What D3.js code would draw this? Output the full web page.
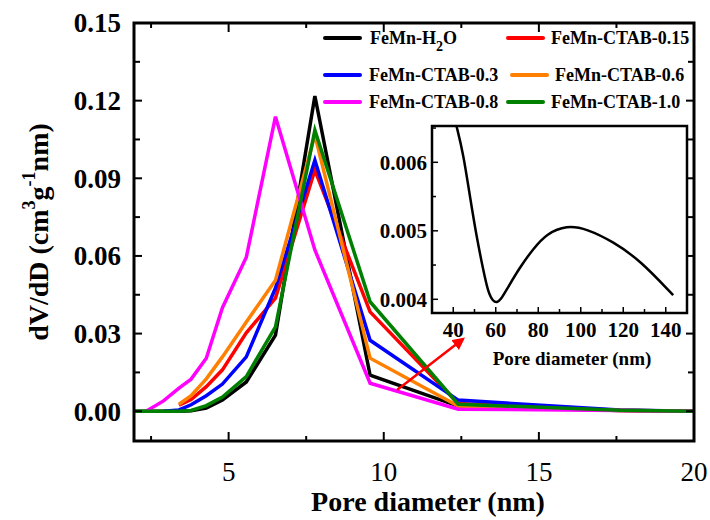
<!DOCTYPE html>
<html>
<head>
<meta charset="utf-8">
<script src="https://cdn.jsdelivr.net/npm/d3@7"></script>
<style>
  body { margin: 0; background: #fff; }
  svg text { font-family: "Liberation Serif", "Times New Roman", Times, "DejaVu Serif", serif; }
</style>
</head>
<body>
<svg width="710" height="520"></svg>
<script>
// pore diameters (nm) of the BJH points
const poreX = [1.95, 2.34, 2.9, 3.4, 3.79, 4.28, 4.8, 5.57, 6.51, 7.78, 9.56, 12.4, 17.6, 20];

const h2o    = [0, 0, 0, 0, 0.0002, 0.0012, 0.0043, 0.0113, 0.0294, 0.1218, 0.0139, 0.0020, 0.0003, 0];
const ctab15 = [null, null, null, 0.0023, 0.0045, 0.0095, 0.0160, 0.0303, 0.0437, 0.0932, 0.0384, 0.0030, 0.0004, 0];
const ctab3  = [null, null, 0, 0.0005, 0.0025, 0.0060, 0.0105, 0.0210, 0.0476, 0.0970, 0.0274, 0.0043, 0.0005, 0];
const ctab6  = [null, null, null, 0.0027, 0.0060, 0.0125, 0.0210, 0.0345, 0.0506, 0.1067, 0.0205, 0.0020, 0.0003, 0];
const ctab8  = [null, 0, 0.0040, 0.0089, 0.0124, 0.0205, 0.0400, 0.0595, 0.1138, 0.0623, 0.0108, 0.0008, 0.0003, 0];
const ctab10 = [0, 0, 0, 0, 0.0003, 0.0022, 0.0055, 0.0134, 0.0326, 0.1086, 0.0423, 0.0027, 0.0004, 0];

const seriesNames = ["FeMn-H2O", "FeMn-CTAB-0.15", "FeMn-CTAB-0.3", "FeMn-CTAB-0.6", "FeMn-CTAB-0.8", "FeMn-CTAB-1.0"];
const seriesValues = [h2o, ctab15, ctab3, ctab6, ctab8, ctab10];
const seriesColors = ["#000000", "#ff0000", "#0000ff", "#ff8000", "#ff00ff", "#008000"];

const yTicks = [0, 0.03, 0.06, 0.09, 0.12, 0.15];
const xTicks = [5, 10, 15, 20];

// inset: the H2O curve at large pores
const insetX = [41.6, 44.7, 47.9, 51, 54.1, 56.5, 58.8, 60.5, 62.5, 65.1, 71.4, 77.7, 84, 93.4, 102.8, 115.3, 127.9, 143.5];
const insetY = [0.00652, 0.00613, 0.00549, 0.00491, 0.00443, 0.00409, 0.00397, 0.00395, 0.00400, 0.00414, 0.00447, 0.00474, 0.00496, 0.00508, 0.00503, 0.00484, 0.00457, 0.00406];
const insetXTicks = [40, 60, 80, 100, 120, 140];
const insetYTicks = [0.004, 0.005, 0.006];

const FONT = "'Liberation Serif', 'Times New Roman', Times, 'DejaVu Serif', serif";

const svg = d3.select("svg").attr("font-family", FONT);

const plot = { left: 134, right: 694, top: 23, bottom: 441 };

const x = d3.scaleLinear().domain([1.95, 20]).range([plot.left, plot.right]);
const y = d3.scaleLinear().domain([-0.0115, 0.15]).range([plot.bottom, plot.top]);

svg.append("clipPath").attr("id", "mainClip")
    .append("rect")
    .attr("x", plot.left).attr("y", plot.top)
    .attr("width", plot.right - plot.left).attr("height", plot.bottom - plot.top);

// lines
const line = d3.line()
    .defined(d => d[1] !== null)
    .x(d => x(d[0]))
    .y(d => y(d[1]));

const lines = svg.append("g").attr("clip-path", "url(#mainClip)");
seriesValues.forEach((vals, i) => {
    lines.append("path")
        .datum(poreX.map((p, j) => [p, vals[j]]))
        .attr("fill", "none")
        .attr("stroke", seriesColors[i])
        .attr("stroke-width", 3.5)
        .attr("d", line);
});

// ticks pointing inward
function stepTicks(scale, step) {
    const [a, b] = scale.domain();
    return d3.range(Math.ceil(a / step) * step, b + 1e-9, step);
}

const xAll = stepTicks(x, 2.5);
svg.append("g")
    .selectAll("line")
    .data(xAll)
    .join("line")
    .attr("x1", d => x(d)).attr("x2", d => x(d))
    .attr("y1", plot.bottom).attr("y2", d => plot.bottom - (d % 5 === 0 ? 9 : 5))
    .attr("stroke", "#000").attr("stroke-width", 2);

svg.append("g")
    .selectAll("line")
    .data(xAll)
    .join("line")
    .attr("x1", d => x(d)).attr("x2", d => x(d))
    .attr("y1", plot.top).attr("y2", d => plot.top + (d % 5 === 0 ? 9 : 5))
    .attr("stroke", "#000").attr("stroke-width", 2);

const yAll = d3.range(0, 0.1501, 0.015);
svg.append("g")
    .selectAll("line")
    .data(yAll)
    .join("line")
    .attr("x1", plot.left).attr("x2", (d, i) => plot.left + (i % 2 === 0 ? 8 : 6))
    .attr("y1", d => y(d)).attr("y2", d => y(d))
    .attr("stroke", "#000").attr("stroke-width", 2);

svg.append("g")
    .selectAll("line")
    .data(yAll)
    .join("line")
    .attr("x1", plot.right).attr("x2", (d, i) => plot.right - (i % 2 === 0 ? 8 : 6))
    .attr("y1", d => y(d)).attr("y2", d => y(d))
    .attr("stroke", "#000").attr("stroke-width", 2);

// frame
svg.append("rect")
    .attr("x", plot.left).attr("y", plot.top)
    .attr("width", plot.right - plot.left).attr("height", plot.bottom - plot.top)
    .attr("fill", "none").attr("stroke", "#000").attr("stroke-width", 3);

// tick labels
svg.append("g")
    .selectAll("text")
    .data(yTicks)
    .join("text")
    .attr("x", 121).attr("y", d => y(d))
    .attr("dy", "0.35em")
    .attr("text-anchor", "end")
    .attr("font-size", 27).attr("font-weight", "bold")
    .text(d => d3.format(".2f")(d));

svg.append("g")
    .selectAll("text")
    .data(xTicks)
    .join("text")
    .attr("x", d => x(d)).attr("y", 481)
    .attr("text-anchor", "middle")
    .attr("font-size", 27)
    .text(d => d);

// axis titles
svg.append("text")
    .attr("x", 428).attr("y", 511)
    .attr("text-anchor", "middle")
    .attr("font-size", 28).attr("font-weight", "bold")
    .text("Pore diameter (nm)");

const yTitle = svg.append("text")
    .attr("transform", "translate(48,232) rotate(-90)")
    .attr("text-anchor", "middle")
    .attr("font-size", 28).attr("font-weight", "bold");
yTitle.append("tspan").text("dV/dD (cm");
yTitle.append("tspan").attr("font-size", 18).attr("dy", -13).text("3");
yTitle.append("tspan").attr("dy", 13).text("g");
yTitle.append("tspan").attr("font-size", 18).attr("dy", -13).text("-1");
yTitle.append("tspan").attr("dy", 13).text("nm)");

// legend
const legendPos = [
    { lx: 325, tx: 370, y: 38 },
    { lx: 508, tx: 551, y: 38 },
    { lx: 325, tx: 369, y: 75 },
    { lx: 512, tx: 555, y: 75 },
    { lx: 325, tx: 369, y: 102 },
    { lx: 508, tx: 551, y: 102 },
];
const legend = svg.append("g");
seriesNames.forEach((name, i) => {
    const p = legendPos[i];
    legend.append("line")
        .attr("x1", p.lx).attr("x2", p.lx + 35)
        .attr("y1", p.y).attr("y2", p.y)
        .attr("stroke", seriesColors[i]).attr("stroke-width", 4)
        .attr("stroke-linecap", "round");
    const t = legend.append("text")
        .attr("x", p.tx).attr("y", p.y + 6)
        .attr("font-size", 18).attr("font-weight", "bold");
    if (name === "FeMn-H2O") {
        t.append("tspan").text("FeMn-H");
        t.append("tspan").attr("font-size", 14).attr("dy", 7).text("2");
        t.append("tspan").attr("dy", -7).text("O");
    } else {
        t.text(name);
    }
});

// red arrow pointing to the inset
svg.append("defs").append("marker")
    .attr("id", "arrowHead")
    .attr("viewBox", "0 0 10 10")
    .attr("refX", 8).attr("refY", 5)
    .attr("markerWidth", 5).attr("markerHeight", 5)
    .attr("markerUnits", "strokeWidth")
    .attr("orient", "auto")
    .append("path").attr("d", "M0,0 L10,5 L0,10 z").attr("fill", "#ff0000");

svg.append("line")
    .attr("x1", 397).attr("y1", 390)
    .attr("x2", 463).attr("y2", 339)
    .attr("stroke", "#ff0000").attr("stroke-width", 2.5)
    .attr("marker-end", "url(#arrowHead)");

// inset
const ins = { left: 432, right: 687, top: 126, bottom: 313 };
const ix = d3.scaleLinear().domain([30, 150]).range([ins.left, ins.right]);
const iy = d3.scaleLinear().domain([0.0038, 0.00653]).range([ins.bottom, ins.top]);

svg.append("rect")
    .attr("x", ins.left).attr("y", ins.top)
    .attr("width", ins.right - ins.left).attr("height", ins.bottom - ins.top)
    .attr("fill", "#fff");

svg.append("clipPath").attr("id", "insetClip")
    .append("rect")
    .attr("x", ins.left).attr("y", ins.top)
    .attr("width", ins.right - ins.left).attr("height", ins.bottom - ins.top);

svg.append("path")
    .datum(insetX.map((v, i) => [v, insetY[i]]))
    .attr("clip-path", "url(#insetClip)")
    .attr("fill", "none").attr("stroke", "#000").attr("stroke-width", 2.5)
    .attr("d", d3.line().x(d => ix(d[0])).y(d => iy(d[1])).curve(d3.curveBasis));

const ixAll = d3.range(40, 150, 10);
svg.append("g")
    .selectAll("line")
    .data(ixAll)
    .join("line")
    .attr("x1", d => ix(d)).attr("x2", d => ix(d))
    .attr("y1", ins.bottom).attr("y2", d => ins.bottom - (d % 20 === 0 ? 6 : 4))
    .attr("stroke", "#000").attr("stroke-width", 1.5);

const iyAll = [0.004, 0.0045, 0.005, 0.0055, 0.006, 0.0065];
svg.append("g")
    .selectAll("line")
    .data(iyAll)
    .join("line")
    .attr("x1", ins.left).attr("x2", (d, i) => ins.left + (i % 2 === 0 ? 6 : 4))
    .attr("y1", d => iy(d)).attr("y2", d => iy(d))
    .attr("stroke", "#000").attr("stroke-width", 1.5);

svg.append("rect")
    .attr("x", ins.left).attr("y", ins.top)
    .attr("width", ins.right - ins.left).attr("height", ins.bottom - ins.top)
    .attr("fill", "none").attr("stroke", "#000").attr("stroke-width", 2.5);

svg.append("g")
    .selectAll("text")
    .data(insetYTicks)
    .join("text")
    .attr("x", 427).attr("y", d => iy(d))
    .attr("dy", "0.35em")
    .attr("text-anchor", "end")
    .attr("font-size", 21).attr("font-weight", "bold")
    .text(d => d3.format(".3f")(d));

svg.append("g")
    .selectAll("text")
    .data(insetXTicks)
    .join("text")
    .attr("x", d => ix(d)).attr("y", 337)
    .attr("text-anchor", "middle")
    .attr("font-size", 21).attr("font-weight", "bold")
    .text(d => d);

svg.append("text")
    .attr("x", 572).attr("y", 365)
    .attr("text-anchor", "middle")
    .attr("font-size", 19).attr("font-weight", "bold")
    .text("Pore diameter (nm)");
</script>
</body>
</html>
